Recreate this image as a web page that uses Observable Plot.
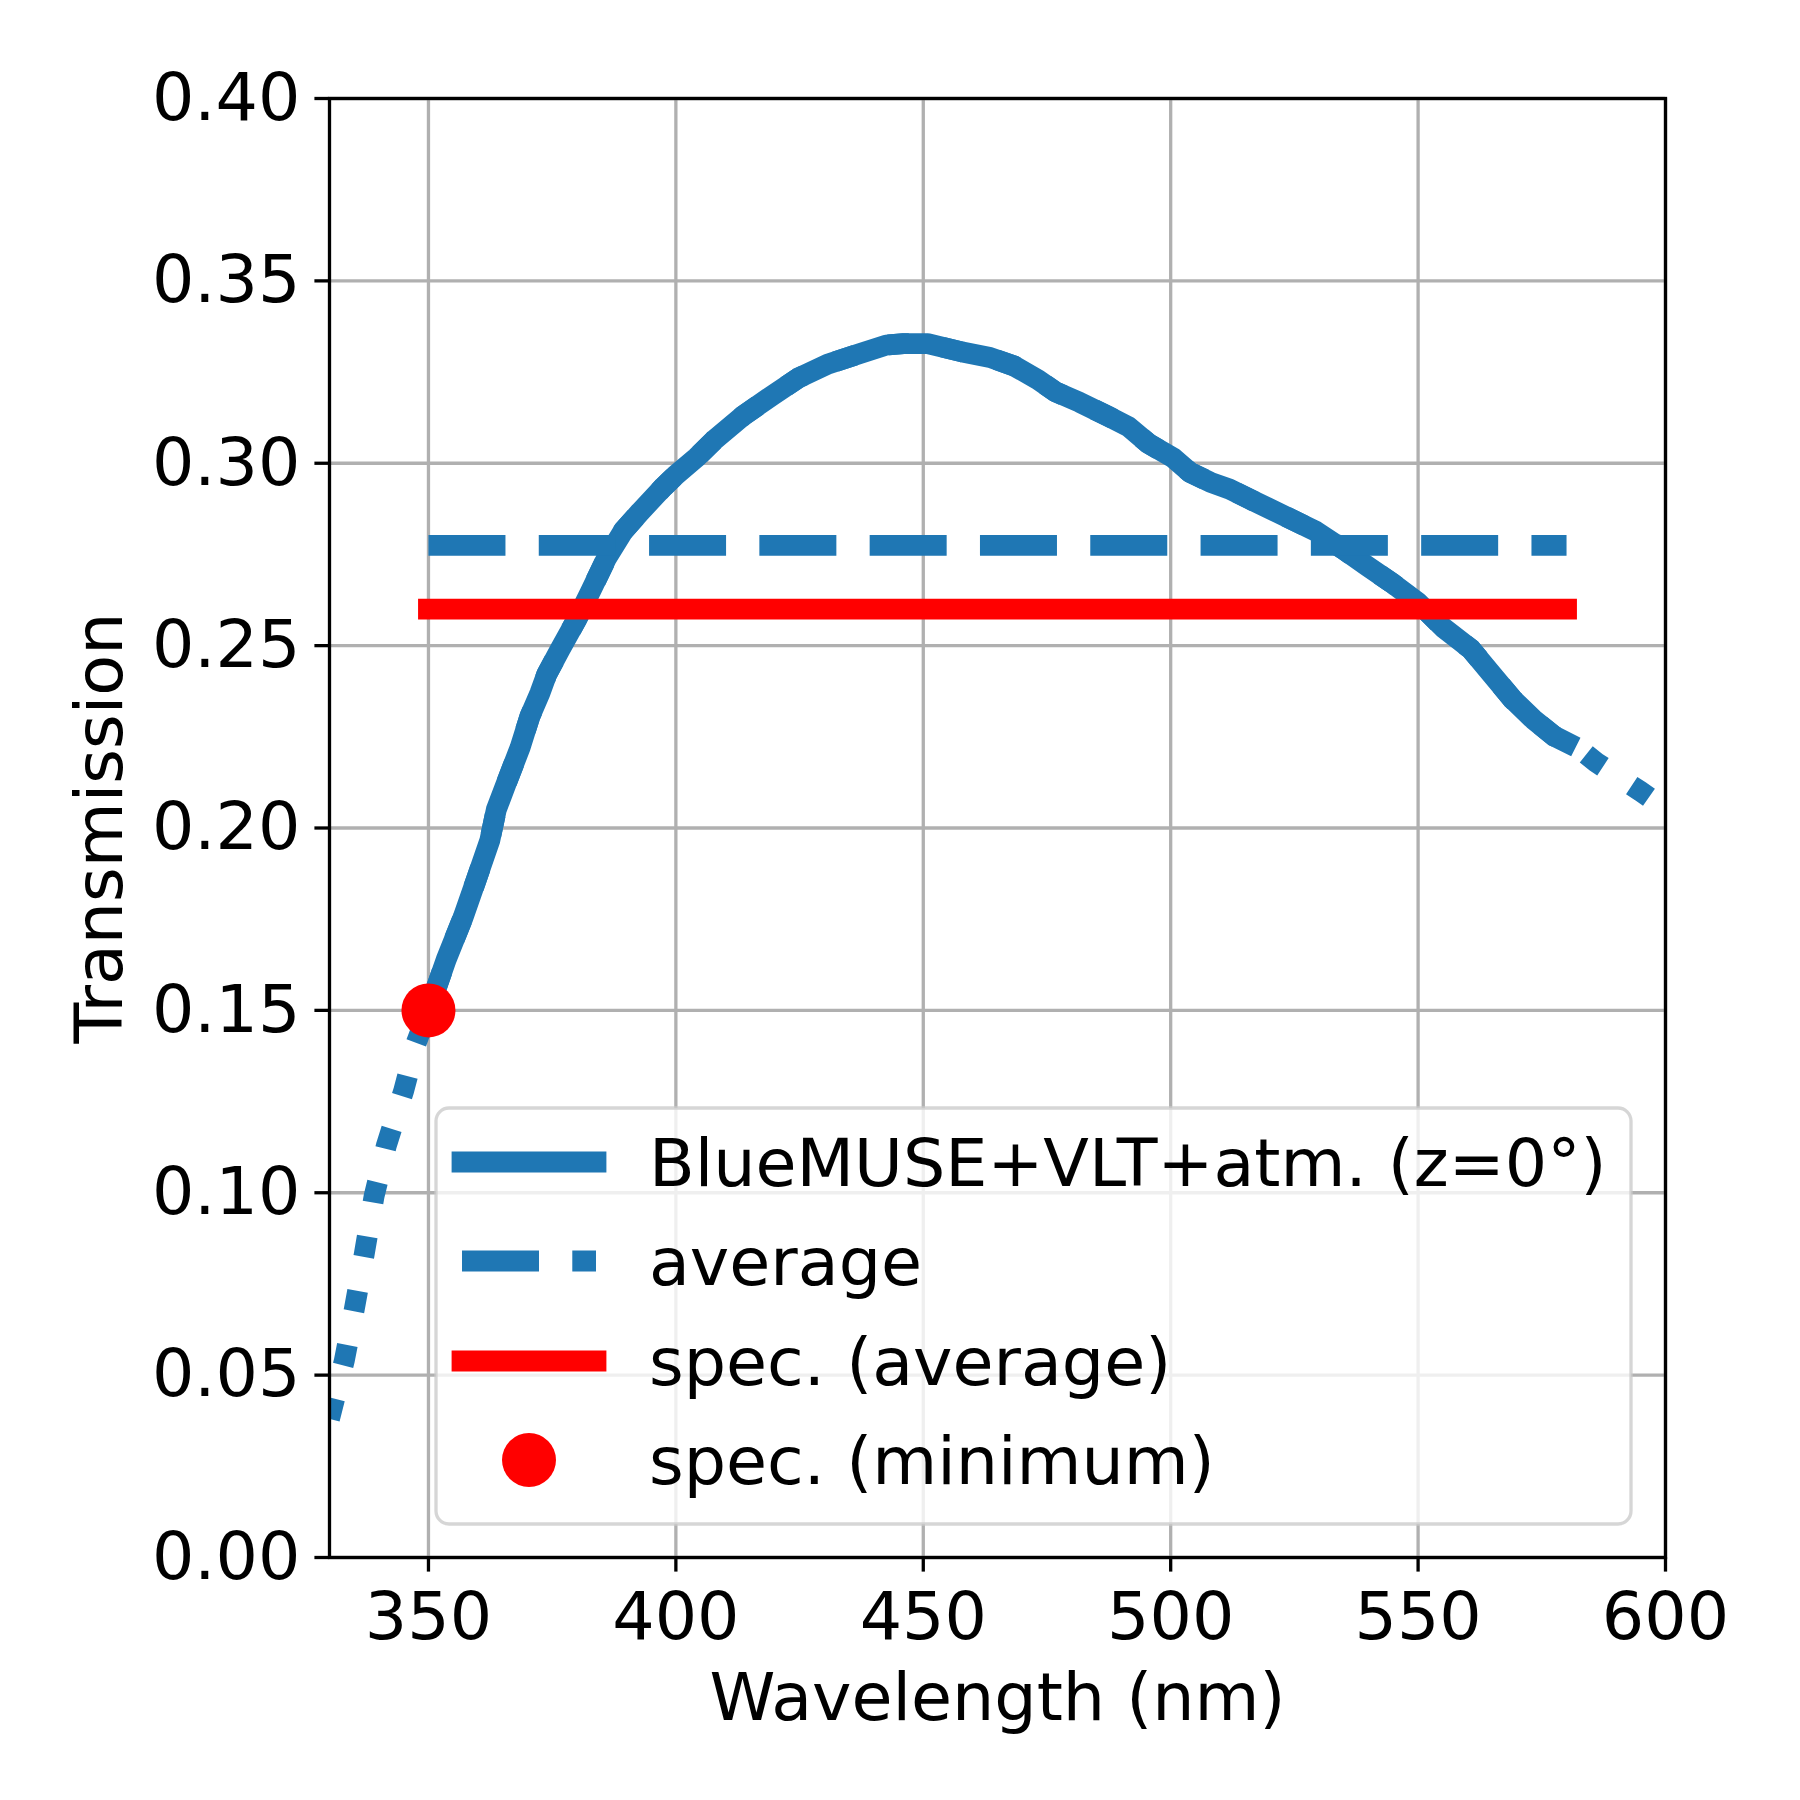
<!DOCTYPE html>
<html>
<head>
<meta charset="utf-8">
<script src="https://cdn.jsdelivr.net/npm/d3@7"></script>
<script src="https://cdn.jsdelivr.net/npm/@observablehq/plot@0.6"></script>
<style>
  html, body { margin: 0; padding: 0; background: white; }
  #wrap { position: relative; width: 1800px; height: 1800px; }
  #legend { position: absolute; left: 0; top: 0; pointer-events: none; }
</style>
</head>
<body>
<div id="wrap"></div>
<script>
// ---- data ----
const wavelength = [330,333,335,337,339,341.5,345,347.5,350,353.6,357,359.7,362.4,363.7,365.8,368.5,370.5,372.5,373.9,376.6,380,382.7,386,389.4,392.8,397.5,400,404.2,407.7,413.6,419.5,424.8,430.7,437,442.5,446,450.9,457.9,463.5,468.3,473.2,476.7,481.6,487.2,491.4,495.5,500.4,503.9,508,511.9,516.7,523.7,529.3,534.9,539.7,544.6,550,555.1,560.7,564.9,569.1,573.3,577.5,580,582.3,586,590.7,595,598.7,600];
const transmission = [0.038,0.054,0.068,0.083,0.099,0.113,0.128,0.141,0.150,0.164,0.1755,0.186,0.1966,0.205,0.2125,0.222,0.2306,0.2369,0.2421,0.249,0.2573,0.2647,0.274,0.2815,0.2867,0.2935,0.2968,0.3016,0.3063,0.313,0.3186,0.3234,0.3272,0.330,0.3324,0.3328,0.3328,0.3305,0.329,0.3267,0.3229,0.3196,0.3167,0.313,0.3101,0.3054,0.3016,0.2975,0.2948,0.2929,0.2897,0.2851,0.2814,0.2764,0.2718,0.2673,0.2618,0.2549,0.249,0.2421,0.2353,0.2298,0.2252,0.2235,0.222,0.218,0.2138,0.210,0.2065,0.2053];
const bandRange = [350, 580];          // spec band
const averageValue = [0.2775, 0.2775]; // measured average over band
const specAverage = [0.26, 0.26];      // spec (average)
const specMinimum = [{wl: 350, t: 0.15}]; // spec (minimum)
const xTicks = [350, 400, 450, 500, 550, 600];
const yTicks = [0, 0.05, 0.10, 0.15, 0.20, 0.25, 0.30, 0.35, 0.40];
const legendLabels = ["BlueMUSE+VLT+atm. (z=0°)", "average", "spec. (average)", "spec. (minimum)"];

const BLUE = "#1f77b4", RED = "#ff0000";
const LW = 20.8;

const curve = wavelength.map((w, i) => ({wl: w, t: transmission[i]}));
const solid = curve.filter(d => d.wl >= bandRange[0] && d.wl <= bandRange[1]);
const avgData = bandRange.map((w, i) => ({wl: w, t: averageValue[i]}));
const specData = bandRange.map((w, i) => ({wl: w, t: specAverage[i]}));

const W = 1800, H = 1800;
const mL = 329, mR = 135, mT = 98, mB = 243;

const chart = Plot.plot({
  width: W, height: H,
  marginLeft: mL, marginRight: mR, marginTop: mT, marginBottom: mB,
  style: {fontFamily: "DejaVu Sans", fontSize: "66.7px", background: "white", color: "black"},
  x: {domain: [330, 600]},
  y: {domain: [0, 0.40]},
  marks: [
    Plot.gridX(xTicks, {stroke: "#b0b0b0", strokeOpacity: 1, strokeWidth: 3.3}),
    Plot.gridY(yTicks, {stroke: "#b0b0b0", strokeOpacity: 1, strokeWidth: 3.3}),
    Plot.line(curve, {x: "wl", y: "t", stroke: BLUE, strokeWidth: LW, strokeDasharray: "20.8,34.4", strokeLinecap: "butt", clip: true}),
    Plot.line(solid, {x: "wl", y: "t", stroke: BLUE, strokeWidth: LW, strokeLinecap: "square", strokeLinejoin: "round", clip: true}),
    Plot.line(avgData, {x: "wl", y: "t", stroke: BLUE, strokeWidth: LW, strokeDasharray: "77,33.3", strokeLinecap: "butt"}),
    Plot.line(specData, {x: "wl", y: "t", stroke: RED, strokeWidth: LW, strokeLinecap: "square"}),
    Plot.dot(specMinimum, {x: "wl", y: "t", r: 27, fill: RED, stroke: "none"}),
    Plot.frame({stroke: "black", strokeWidth: 3.3}),
    Plot.axisX(xTicks, {tickSize: 14.6, tickPadding: 20, strokeWidth: 3.3, fontSize: 66.7, label: null}),
    Plot.axisY(yTicks, {tickSize: 14.6, tickPadding: 14.5, strokeWidth: 3.3, fontSize: 66.7, label: null, tickFormat: d3.format(".2f")}),
    Plot.text(["Wavelength (nm)"], {frameAnchor: "bottom", dy: 141, lineAnchor: "middle", textAnchor: "middle", fontSize: 66.7}),
    Plot.text(["Transmission"], {frameAnchor: "left", dx: -229, rotate: -90, lineAnchor: "middle", textAnchor: "middle", fontSize: 66.7})
  ]
});

const wrap = document.getElementById("wrap");
wrap.appendChild(chart);

// ---- legend overlay ----
const lg = d3.select(wrap).append("svg")
  .attr("id", "legend").attr("width", W).attr("height", H)
  .style("font-family", "DejaVu Sans");
const box = {x0: 436, y0: 1108, x1: 1631, y1: 1524};
lg.append("rect")
  .attr("x", box.x0).attr("y", box.y0)
  .attr("width", box.x1 - box.x0).attr("height", box.y1 - box.y0)
  .attr("rx", 13).attr("ry", 13)
  .attr("fill", "white").attr("fill-opacity", 0.8)
  .attr("stroke", "#cccccc").attr("stroke-opacity", 0.8).attr("stroke-width", 3.3);

const rowY = [1162, 1261, 1361, 1460];
const hx0 = 462, hx1 = 596, textX = 649;
const styles = [
  {type: "line", color: BLUE, dash: null, cap: "square"},
  {type: "line", color: BLUE, dash: "77,33.3", cap: "butt"},
  {type: "line", color: RED, dash: null, cap: "square"},
  {type: "dot", color: RED}
];
legendLabels.forEach((lab, i) => {
  const s = styles[i], y = rowY[i];
  if (s.type === "line") {
    const l = lg.append("line").attr("x1", hx0).attr("x2", hx1).attr("y1", y).attr("y2", y)
      .attr("stroke", s.color).attr("stroke-width", LW).attr("stroke-linecap", s.cap);
    if (s.dash) l.attr("stroke-dasharray", s.dash);
  } else {
    lg.append("circle").attr("cx", (hx0 + hx1) / 2).attr("cy", y).attr("r", 27).attr("fill", s.color);
  }
  lg.append("text").attr("x", textX).attr("y", y + 23.5)
    .attr("font-size", 66.7).attr("fill", "black").text(lab);
});
</script>
</body>
</html>
